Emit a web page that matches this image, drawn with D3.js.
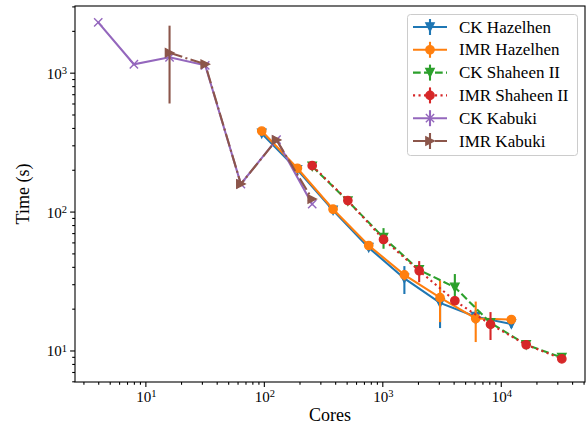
<!DOCTYPE html>
<html lang="en">
<head>
<meta charset="UTF-8">
<title>Cores vs time</title>
<script src="https://cdn.jsdelivr.net/npm/d3@7"></script>
<style>
  body { margin: 0; background: #fff; }
  text { font-family: "Liberation Serif", "Times New Roman", serif; fill: #000; }
</style>
</head>
<body>
<script>
// core counts per machine
var kabukiCores = [4, 8, 16, 32, 64, 128, 256];
var kabukiImrCores = [16, 32, 64, 128, 256];
var hazelCores = [96, 192, 384, 768, 1536, 3072, 6144, 12288];
var shaheenCores = [256, 512, 1024, 2048, 4096, 8192, 16384, 32768];

// times (s) and error bars
var ckHazel = [365, 200, 102, 55, 33, 22, 17.5, 15.5];
var ckHazelErr = [8, 5, 4, 3, 7.5, 7.5, 2, 1];
var imrHazel = [380, 205, 104, 57, 35, 24, 17, 16.7];
var imrHazelErr = [5, 4, 3, 2, 3, 8, 5.5, 0.5];
var ckShaheen = [212, 119, 65, 38, 28.5, 15.8, 11, 8.9];
var ckShaheenErr = [3, 3, 11, 3, 7, 1, 0.6, 0.6];
var imrShaheen = [214, 120, 63, 37.5, 22.8, 15.4, 11, 8.7];
var imrShaheenErr = [3, 3, 4, 6.5, 1.5, 3.5, 0.5, 0.5];
var ckKabuki = [2300, 1150, 1290, 1130, 158, 330, 113];
var ckKabukiErr = [20, 15, 20, 15, 3, 5, 2];
var imrKabuki = [1390, 1150, 158, 328, 123];
var imrKabukiErr = [790, 30, 4, 12, 4];

var xMajor = [10, 100, 1000, 10000];
var yMajor = [10, 100, 1000];

var w = 587, h = 427;
var pLeft = 75, pRight = 585, pTop = 6, pBottom = 382;

var x = d3.scaleLog().domain([2.547, 51400]).range([pLeft, pRight]);
var y = d3.scaleLog().domain([5.93, 3020]).range([pBottom, pTop]);

var series = [
  {name: "CK Hazelhen", cores: hazelCores, vals: ckHazel, errs: ckHazelErr, color: "#1f77b4", dash: null, marker: "v"},
  {name: "IMR Hazelhen", cores: hazelCores, vals: imrHazel, errs: imrHazelErr, color: "#ff7f0e", dash: null, marker: "o"},
  {name: "CK Shaheen II", cores: shaheenCores, vals: ckShaheen, errs: ckShaheenErr, color: "#2ca02c", dash: "7.7,3.3", marker: "v"},
  {name: "IMR Shaheen II", cores: shaheenCores, vals: imrShaheen, errs: imrShaheenErr, color: "#d62728", dash: "2.1,3.4", marker: "o"},
  {name: "CK Kabuki", cores: kabukiCores, vals: ckKabuki, errs: ckKabukiErr, color: "#9467bd", dash: null, marker: "x"},
  {name: "IMR Kabuki", cores: kabukiImrCores, vals: imrKabuki, errs: imrKabukiErr, color: "#8c564b", dash: "13.3,3.3,2.1,3.3", marker: ">"}
];

var svg = d3.select("body").append("svg")
  .attr("width", w)
  .attr("height", h);

svg.append("defs").append("clipPath").attr("id", "plot")
  .append("rect").attr("x", pLeft).attr("y", pTop)
  .attr("width", pRight - pLeft).attr("height", pBottom - pTop);

// axes: minor ticks first, then majors with 10^k labels
function minors(lo, hi) {
  var out = [];
  for (var e = Math.floor(Math.log10(lo)); e <= Math.ceil(Math.log10(hi)); e++) {
    for (var m = 2; m < 10; m++) {
      var v = m * Math.pow(10, e);
      if (v > lo && v < hi) out.push(v);
    }
  }
  return out;
}

svg.append("g").attr("transform", "translate(0," + pBottom + ")")
  .call(d3.axisBottom(x).tickValues(minors(2.547, 51400)).tickSize(2.8).tickFormat(""));
svg.append("g").attr("transform", "translate(" + pLeft + ",0)")
  .call(d3.axisLeft(y).tickValues(minors(5.93, 3020)).tickSize(2.8).tickFormat(""));

svg.append("g").attr("transform", "translate(0," + pBottom + ")")
  .call(d3.axisBottom(x).tickValues(xMajor).tickSize(4.9).tickFormat(""));
svg.append("g").attr("transform", "translate(" + pLeft + ",0)")
  .call(d3.axisLeft(y).tickValues(yMajor).tickSize(4.9).tickFormat(""));

svg.selectAll(".domain").remove();
svg.selectAll(".tick line").attr("stroke", "#000").attr("stroke-width", 1.1);

function powLabel(g, v) {
  var t = g.append("text").style("font-size", "15px");
  t.append("tspan").text("10");
  t.append("tspan").attr("dy", "-0.45em").style("font-size", "10.5px").text(Math.round(Math.log10(v)));
  return t;
}

xMajor.forEach(function (v) {
  powLabel(svg, v).attr("x", x(v) + 1).attr("y", 402).attr("text-anchor", "middle");
});
yMajor.forEach(function (v) {
  powLabel(svg, v).attr("x", 67).attr("y", y(v) + 6).attr("text-anchor", "end");
});

svg.append("text").attr("x", (pLeft + pRight) / 2).attr("y", 421)
  .attr("text-anchor", "middle").style("font-size", "18px").text("Cores");
svg.append("text").attr("transform", "translate(29," + ((pTop + pBottom) / 2) + ") rotate(-90)")
  .attr("text-anchor", "middle").style("font-size", "18px").text("Time (s)");

// markers
var ms = 4.15;
function drawMarker(g, type, cx, cy, color) {
  if (type === "o") {
    g.append("circle").attr("cx", cx).attr("cy", cy).attr("r", ms)
      .attr("fill", color).attr("stroke", color).attr("stroke-width", 1.4);
  } else {
    var p;
    if (type === "v") p = "M0," + ms + "L" + (-ms) + "," + (-ms) + "L" + ms + "," + (-ms) + "Z";
    if (type === ">") p = "M" + ms + ",0L" + (-ms) + "," + (-ms) + "L" + (-ms) + "," + ms + "Z";
    if (type === "x") p = "M" + (-ms) + "," + (-ms) + "L" + ms + "," + ms + "M" + (-ms) + "," + ms + "L" + ms + "," + (-ms);
    g.append("path").attr("d", p).attr("transform", "translate(" + cx + "," + cy + ")")
      .attr("fill", type === "x" ? "none" : color)
      .attr("stroke", color).attr("stroke-width", 1.4).attr("stroke-linejoin", "miter");
  }
}

var plot = svg.append("g").attr("clip-path", "url(#plot)");
var line = d3.line().x(function (d) { return x(d[0]); }).y(function (d) { return y(d[1]); });

series.forEach(function (s) {
  var pts = s.cores.map(function (c, i) { return [c, s.vals[i], s.errs[i]]; });
  var g = plot.append("g");
  g.selectAll("line.err").data(pts).enter().append("line")
    .attr("x1", function (d) { return x(d[0]); })
    .attr("x2", function (d) { return x(d[0]); })
    .attr("y1", function (d) { return y(d[1] - d[2]); })
    .attr("y2", function (d) { return y(d[1] + d[2]); })
    .attr("stroke", s.color).attr("stroke-width", 2.1);
  g.append("path").datum(pts).attr("d", line)
    .attr("fill", "none").attr("stroke", s.color).attr("stroke-width", 2.1)
    .attr("stroke-dasharray", s.dash);
  pts.forEach(function (d) { drawMarker(g, s.marker, x(d[0]), y(d[1]), s.color); });
});

// frame
svg.append("rect").attr("x", pLeft).attr("y", pTop)
  .attr("width", pRight - pLeft).attr("height", pBottom - pTop)
  .attr("fill", "none").attr("stroke", "#000").attr("stroke-width", 1.1);

// legend
var lg = svg.append("g");
lg.append("rect").attr("x", 407.5).attr("y", 14.5).attr("width", 170).attr("height", 141)
  .attr("rx", 3).attr("fill", "#fff").attr("fill-opacity", 0.8)
  .attr("stroke", "#cccccc").attr("stroke-width", 1);
series.forEach(function (s, i) {
  var ry = 27 + i * 22.8;
  lg.append("line").attr("x1", 413).attr("x2", 447).attr("y1", ry).attr("y2", ry)
    .attr("stroke", s.color).attr("stroke-width", 2.1).attr("stroke-dasharray", s.dash);
  lg.append("line").attr("x1", 430).attr("x2", 430).attr("y1", ry - 8).attr("y2", ry + 8)
    .attr("stroke", s.color).attr("stroke-width", 2.1);
  drawMarker(lg, s.marker, 430, ry, s.color);
  lg.append("text").attr("x", 459).attr("y", ry + 5.5).style("font-size", "17px").text(s.name);
});
</script>
</body>
</html>
